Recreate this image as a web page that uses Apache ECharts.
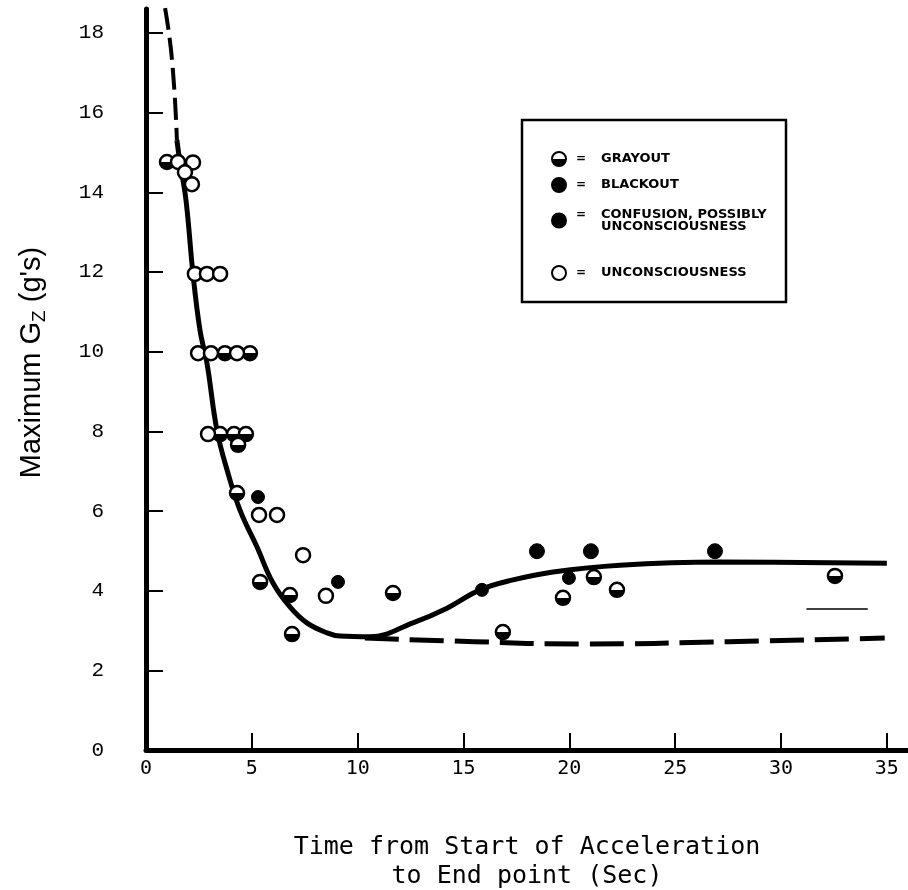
<!DOCTYPE html>
<html>
<head>
<meta charset="utf-8">
<script src="https://cdn.jsdelivr.net/npm/echarts@6/dist/echarts.min.js"></script>
<style>
  html, body { margin: 0; padding: 0; background: #fff; }
  #chart { width: 908px; height: 890px; }
</style>
</head>
<body>
<div id="chart"></div>
<script>
// tick values
const xTicks = [0, 5, 10, 15, 20, 25, 30, 35];
const yTicks = [0, 2, 4, 6, 8, 10, 12, 14, 16, 18];

// observations [time (s), max Gz]
const grayout = [
  [0.99, 14.76], [3.73, 9.96], [4.91, 9.96], [3.5, 7.93], [4.16, 7.93], [4.72, 7.93],
  [4.35, 7.66], [4.3, 6.45], [5.39, 4.22], [6.8, 3.89], [6.9, 2.91], [11.67, 3.94],
  [16.86, 2.96], [19.7, 3.82], [21.16, 4.34], [22.25, 4.02], [32.55, 4.37]
];
const blackout = [[18.47, 4.99], [21.02, 4.99], [26.88, 4.99]];
const confusion = [[5.29, 6.35], [9.07, 4.22], [15.87, 4.02], [19.98, 4.32]];
const unconscious = [
  [1.51, 14.76], [2.22, 14.75], [1.84, 14.5], [2.17, 14.2],
  [2.31, 11.95], [2.88, 11.95], [3.5, 11.95],
  [2.46, 9.96], [3.07, 9.96], [4.3, 9.96],
  [2.93, 7.93], [5.34, 5.9], [6.19, 5.9], [7.42, 4.89], [8.5, 3.87]
];

// fitted curves
const curveTopDash = [[0.9, 18.62], [1.23, 17.32], [1.46, 15.31]];
const curveSolid = [
  [1.46, 15.31], [1.61, 14.73], [1.89, 13.8], [2.22, 11.95], [2.55, 10.54], [2.88, 9.71],
  [3.35, 8.03], [3.83, 7.03], [4.44, 6.02], [5.24, 5.1], [6.0, 4.19], [6.8, 3.59],
  [7.6, 3.19], [8.55, 2.94], [9.16, 2.86], [10.58, 2.84], [12.61, 3.19], [14.22, 3.56],
  [15.78, 4.02], [17.34, 4.27], [19.23, 4.47], [22.39, 4.64], [27.11, 4.72], [35.0, 4.69]
];
const curveLowDash = [[10.34, 2.81], [15.5, 2.72], [20.5, 2.66], [27.5, 2.72], [34.9, 2.81]];
const strayMark = [[31.2, 3.54], [34.1, 3.54]];

const chart = echarts.init(document.getElementById('chart'));

const grayFill = new echarts.graphic.LinearGradient(0, 0, 0, 1, [
  { offset: 0, color: '#fff' }, { offset: 0.5, color: '#fff' },
  { offset: 0.5, color: '#000' }, { offset: 1, color: '#000' }
]);

const legendFont = '"DejaVu Sans", sans-serif';
const legendText = {
  fontFamily: legendFont,
  fontWeight: 'bold',
  fontSize: 13,
  color: '#000',
  lineHeight: 12,
  rich: {
    eq: { width: 20, align: 'center', fontWeight: 'bold', fontSize: 12, fontFamily: legendFont, lineHeight: 12 },
    t: { fontWeight: 'bold', fontSize: 13, fontFamily: legendFont, lineHeight: 12, padding: [0, 0, 0, 10] },
    t2: { fontWeight: 'bold', fontSize: 13, fontFamily: legendFont, lineHeight: 12, padding: [0, 0, 0, 30] }
  }
};

function legendAt(name, top, fmt) {
  return {
    data: [name], left: 551, top: top, padding: 0,
    itemWidth: 14, itemHeight: 14,
    selectedMode: false,
    formatter: fmt || ('{eq|=}{t|' + name + '}'),
    textStyle: legendText
  };
}

chart.setOption({
  animation: false,
  backgroundColor: '#fff',
  grid: { left: 146, right: 0, top: 9, bottom: 140, outerBoundsMode: 'none', containLabel: false },
  legend: [
    legendAt('GRAYOUT', 151),
    legendAt('BLACKOUT', 177),
    legendAt('CONFUSION', 208, '{eq|=}{t|CONFUSION, POSSIBLY}\n{t2|UNCONSCIOUSNESS}'),
    legendAt('UNCONSCIOUSNESS', 265)
  ],
  graphic: [{
    type: 'rect', z: 0,
    shape: { x: 522, y: 120, width: 264, height: 182 },
    style: { fill: '#fff', stroke: '#000', lineWidth: 2.5 }
  }],
  xAxis: {
    type: 'value', min: 0, max: 36,
    name: 'Time from Start of Acceleration\nto End point (Sec)',
    nameLocation: 'middle', nameGap: 83,
    nameTextStyle: { fontFamily: '"DejaVu Sans Mono", monospace', fontSize: 25, lineHeight: 29, color: '#000' },
    axisLine: { lineStyle: { color: '#000', width: 5 } },
    axisTick: { inside: true, length: 17, customValues: xTicks, lineStyle: { color: '#000', width: 2 } },
    axisLabel: { customValues: xTicks, margin: 9, fontFamily: '"DejaVu Sans Mono", monospace', fontSize: 20, color: '#000' },
    splitLine: { show: false }
  },
  yAxis: {
    type: 'value', min: 0, max: 18.6,
    name: 'Maximum G{sub|Z} (g\'s)',
    nameLocation: 'middle', nameRotate: 90, nameGap: 97,
    nameTextStyle: {
      fontFamily: '"Liberation Sans", sans-serif', fontSize: 29, color: '#000', lineHeight: 34,
      padding: [0, 0, 0, 34],
      rich: { sub: { fontSize: 19, lineHeight: 14, verticalAlign: 'bottom' } }
    },
    axisLine: { lineStyle: { color: '#000', width: 5 } },
    axisTick: { inside: true, length: 17, customValues: yTicks, lineStyle: { color: '#000', width: 2 } },
    axisLabel: { customValues: yTicks, margin: 42, fontFamily: '"Liberation Mono", monospace', fontSize: 21, color: '#000' },
    splitLine: { show: false }
  },
  series: [
    {
      type: 'line', data: curveTopDash, smooth: true, symbol: 'none', silent: true,
      lineStyle: { color: '#000', width: 4, type: [22, 8] }, z: 2
    },
    {
      type: 'line', data: curveSolid, smooth: 0.4, symbol: 'none', silent: true,
      lineStyle: { color: '#000', width: 5 }, z: 2
    },
    {
      type: 'line', data: curveLowDash, smooth: true, symbol: 'none', silent: true,
      lineStyle: { color: '#000', width: 5, type: [34, 11] }, z: 2
    },
    {
      type: 'line', data: strayMark, symbol: 'none', silent: true,
      lineStyle: { color: '#000', width: 1.5 }, z: 2
    },
    {
      name: 'GRAYOUT', type: 'scatter', data: grayout, symbol: 'circle', symbolSize: 14,
      itemStyle: { color: grayFill, borderColor: '#000', borderWidth: 2.5, opacity: 1 }, z: 5
    },
    {
      name: 'BLACKOUT', type: 'scatter', data: blackout, symbol: 'circle', symbolSize: 15,
      itemStyle: { color: '#000', borderColor: '#000', borderWidth: 1, opacity: 1 }, z: 5
    },
    {
      name: 'CONFUSION', type: 'scatter', data: confusion, symbol: 'circle', symbolSize: 13,
      itemStyle: { color: '#000', borderColor: '#000', borderWidth: 1, opacity: 1 }, z: 5
    },
    {
      name: 'UNCONSCIOUSNESS', type: 'scatter', data: unconscious, symbol: 'circle', symbolSize: 14,
      itemStyle: { color: '#fff', borderColor: '#000', borderWidth: 2.5, opacity: 1 }, z: 5
    }
  ]
});
</script>
</body>
</html>
